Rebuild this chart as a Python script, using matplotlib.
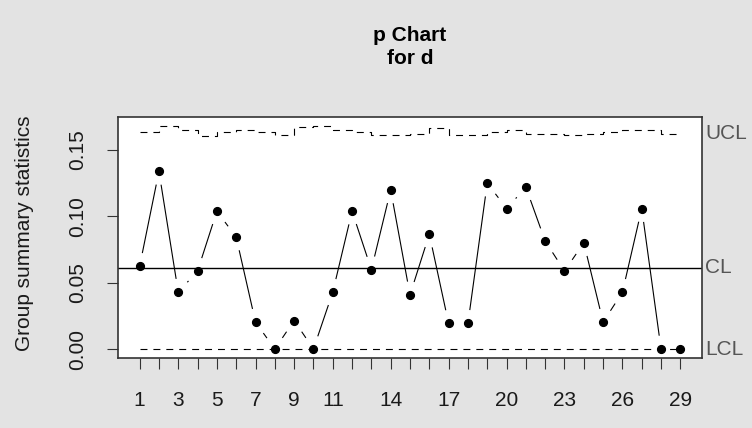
import numpy as np
import matplotlib
matplotlib.use("Agg")
import matplotlib.pyplot as plt
import matplotlib.transforms as mtransforms

# ---- data ----
groups = list(range(1, 30))
p_values = [0.0623, 0.1338, 0.0428, 0.0588, 0.1038, 0.0843, 0.0203, 0.0, 0.0215, 0.0,
            0.0428, 0.1038, 0.0598, 0.1198, 0.0408, 0.0865, 0.0193, 0.0193, 0.1250, 0.1058,
            0.1218, 0.0813, 0.0588, 0.0800, 0.0203, 0.0428, 0.1058, 0.0, 0.0]
ucl_values = [0.1635, 0.1680, 0.1650, 0.1605, 0.1638, 0.1650, 0.1638, 0.1615, 0.1675, 0.1680,
              0.1650, 0.1638, 0.1615, 0.1615, 0.1620, 0.1663, 0.1613, 0.1608, 0.1638, 0.1650,
              0.1620, 0.1620, 0.1608, 0.1620, 0.1638, 0.1648, 0.1650, 0.1620, 0.1620]
lcl_value = 0.0
center_value = 0.0613
xtick_labels = ["1", "3", "5", "7", "9", "11", "14", "17", "20", "23", "26", "29"]
ytick_values = [0.00, 0.05, 0.10, 0.15]
ytick_labels = ["0.00", "0.05", "0.10", "0.15"]
title_text = "p Chart\nfor d"
ylabel_text = "Group summary statistics"

plt.rcParams['font.family'] = ['Liberation Sans', 'DejaVu Sans']
plt.rcParams['lines.scale_dashes'] = False

W, H = 752, 428
fig = plt.figure(figsize=(W / 100, H / 100), dpi=100)
bg = '#e3e3e3'
fig.patch.set_facecolor(bg)

L, R, T, B = 118, 702, 117, 358
ax = fig.add_axes([L / W, 1 - B / H, (R - L) / W, (B - T) / H])
ax.set_facecolor('white')

x = np.array(groups, dtype=float)
p = np.array(p_values)
ucl = np.array(ucl_values)
n = len(x)
xpad = (x[-1] - x[0]) * 0.04
ax.set_xlim(x[0] - xpad, x[-1] + xpad)
ymax = ucl.max()
ypad = (ymax - min(lcl_value, p.min())) * 0.04
ax.set_ylim(min(lcl_value, p.min()) - ypad, ymax + ypad)

dash = (5.0, 4.3)
# control limits
ax.plot(x, ucl, drawstyle='steps-post', color='black', lw=0.8, dashes=dash)
ax.plot(x, np.full(n, lcl_value), color='black', lw=0.8, dashes=dash)
ax.axhline(center_value, color='black', lw=1.0)

# connecting segments with gaps around points (R type 'b')
gap = 13.5
trans = ax.transData
inv = trans.inverted()
disp = trans.transform(np.column_stack([x, p]))
for i in range(n - 1):
    a, b = disp[i], disp[i + 1]
    d = np.hypot(*(b - a))
    if d > 2 * gap:
        u = (b - a) / d
        s = inv.transform([a + u * gap, b - u * gap])
        ax.plot(s[:, 0], s[:, 1], color='black', lw=0.8, solid_capstyle='butt')

ax.plot(x, p, 'o', color='black', ms=5.6, zorder=5)

# ticks
ax.set_xticks(x)
lab_map = {s: s for s in xtick_labels}
ax.set_xticklabels([lab_map.get(str(g), "") for g in groups])
ax.set_yticks(ytick_values)
ax.set_yticklabels(ytick_labels, rotation=90, va='center')
ax.tick_params(axis='both', direction='out', length=8, width=0.8, colors='#333333',
               labelcolor='#1a1a1a', labelsize=15)
ax.tick_params(axis='x', pad=16)
ax.tick_params(axis='y', pad=14)
for sp in ax.spines.values():
    sp.set_color('#333333')
    sp.set_linewidth(1.2)

# right-side labels
blend = mtransforms.blended_transform_factory(ax.transAxes, ax.transData)
for txt, val in [("UCL", ucl[-1]), ("CL", center_value), ("LCL", lcl_value)]:
    ax.text(1.005, val, txt, transform=blend, ha='left', va='center', fontsize=15,
            color='#555555', clip_on=False)

fig.text(25 / W, 1 - 233 / H, ylabel_text, rotation=90, ha='center', va='center',
         fontsize=15, color='#1a1a1a')
fig.text((L + R) / 2 / W, 1 - 47 / H, title_text, ha='center', va='center',
         fontsize=15, fontweight='bold', linespacing=1.25)

fig.savefig('out.png', dpi=100, facecolor=bg)
